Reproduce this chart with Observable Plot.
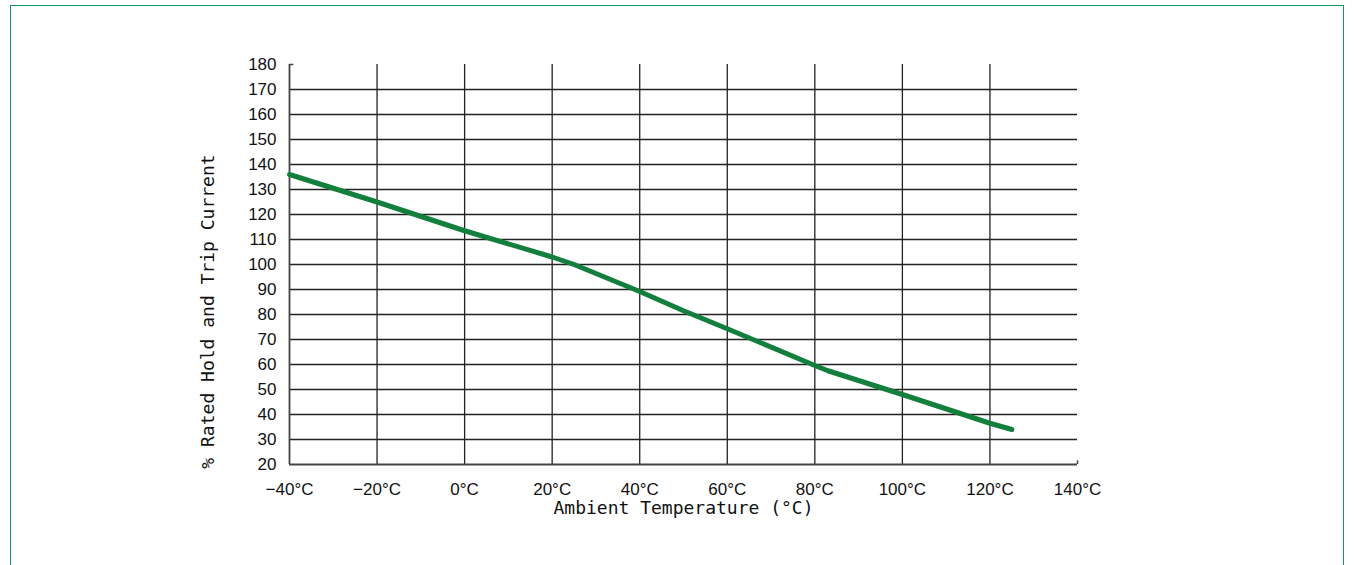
<!DOCTYPE html>
<html>
<head>
<meta charset="utf-8">
<script src="https://cdn.jsdelivr.net/npm/d3@7"></script>
<script src="https://cdn.jsdelivr.net/npm/@observablehq/plot@0.6"></script>
<style>
  html, body { margin: 0; padding: 0; background: #fff; }
  #frame { position: absolute; left: 10px; top: 5px; width: 1334px; height: 620px; border: 1.5px solid #0e9a5f; box-sizing: border-box; }
  #chart { position: absolute; left: 0; top: 0; }
</style>
</head>
<body>
<div id="frame"></div>
<div id="chart"></div>
<script>
// Data
const temperatures = [-40, -20, 0, 20, 25, 40, 50, 60, 80, 83, 100, 120, 125];
const percentCurrent = [136, 125, 113.5, 103, 100, 89.2, 81.5, 74.3, 59.6, 57.5, 48, 36.5, 34];
const xTicks = [-40, -20, 0, 20, 40, 60, 80, 100, 120, 140];
const yTicks = [20, 30, 40, 50, 60, 70, 80, 90, 100, 110, 120, 130, 140, 150, 160, 170, 180];
const xGrid = [-20, 0, 20, 40, 60, 80, 100, 120];
const yGrid = [30, 40, 50, 60, 70, 80, 90, 100, 110, 120, 130, 140, 150, 160, 170];
const xTitle = "Ambient Temperature (°C)";
const yTitle = "% Rated Hold and Trip Current";

const data = temperatures.map((t, i) => ({t, v: percentCurrent[i]}));
const fmtX = d => (d < 0 ? "\u2212" : "") + Math.abs(d) + "°C";

const chart = Plot.plot({
  width: 1355,
  height: 565,
  marginLeft: 289,
  marginRight: 278,
  marginTop: 64,
  marginBottom: 101,
  style: {fontFamily: "'Liberation Sans', Arial, sans-serif", fontSize: "17px", color: "#111", background: "transparent"},
  x: {domain: [-40, 140]},
  y: {domain: [20, 180]},
  marks: [
    Plot.ruleX(xGrid, {y1: 20, y2: 180, stroke: "#222", strokeWidth: 1.3}),
    Plot.ruleY(yGrid, {x1: -40, x2: 140, stroke: "#222", strokeWidth: 1.3}),
    Plot.ruleX([-40], {y1: 20, y2: 180, stroke: "#444", strokeWidth: 1.8}),
    Plot.ruleY([20], {x1: -40, x2: 140, stroke: "#444", strokeWidth: 1.8}),
    Plot.ruleY([180], {x1: -40, x2: -39, stroke: "#444", strokeWidth: 1.5}),
    Plot.ruleX([140], {y1: 20, y2: 21.5, stroke: "#444", strokeWidth: 1.5}),
    Plot.axisX(xTicks, {tickSize: 0, tickPadding: 18, tickFormat: fmtX, label: null, fontSize: 17}),
    Plot.axisY(yTicks, {tickSize: 0, tickPadding: 13, label: null, fontSize: 17}),
    Plot.line(data, {x: "t", y: "v", stroke: "#12803c", strokeWidth: 5, strokeLinejoin: "round"}),
    Plot.text([xTitle], {frameAnchor: "bottom", dy: 44, lineAnchor: "middle", fontFamily: "'DejaVu Sans Mono', monospace", fontSize: 18, fill: "#111"}),
    Plot.text([yTitle], {frameAnchor: "left", textAnchor: "middle", dx: -81, dy: 47, rotate: -90, lineAnchor: "middle", fontFamily: "'DejaVu Sans Mono', monospace", fontSize: 18, fill: "#111"})
  ]
});
document.getElementById("chart").appendChild(chart);
</script>
</body>
</html>
